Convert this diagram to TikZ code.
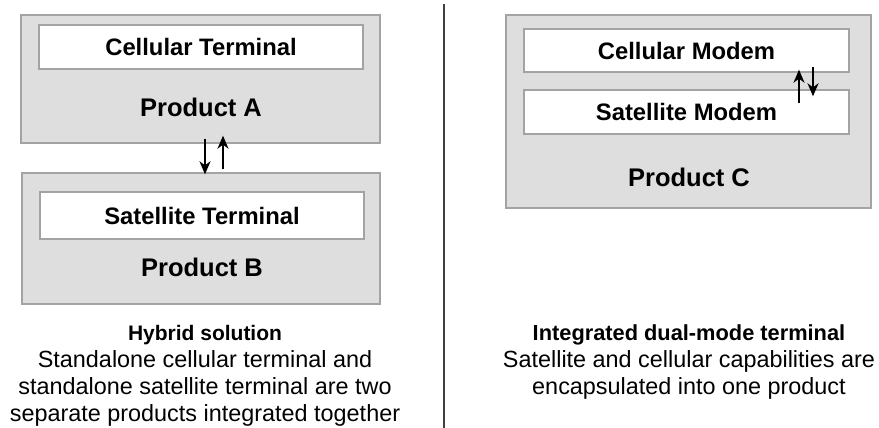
\documentclass[tikz,border=0pt]{standalone}
\usepackage{fontspec}
\setmainfont{Liberation Sans}
\usetikzlibrary{arrows.meta}
\definecolor{boxfill}{HTML}{DEDEDE}
\definecolor{boxline}{HTML}{A3A3A3}
\definecolor{divline}{HTML}{404040}
\tikzset{
  outerbox/.style={draw=boxline, fill=boxfill, line width=1.4pt, rectangle, inner sep=0pt},
  innerbox/.style={draw=boxline, fill=white, line width=1.4pt, rectangle, inner sep=0pt, font=\fontsize{23.8}{26}\selectfont\bfseries},
  prodlabel/.style={inner sep=0pt, font=\fontsize{25.5}{28}\selectfont\bfseries},
  flow/.style={line width=1.7pt, -{Stealth[length=13pt,width=11pt,inset=4pt]}},
  caption/.style={inner sep=0pt, align=center, anchor=north, font=\fontsize{23.4}{27}\selectfont},
}
\begin{document}
\begin{tikzpicture}[x=1pt,y=-1pt]
\useasboundingbox (0,0) rectangle (879,428);
% left: product A
\node[outerbox, minimum width=359pt, minimum height=128pt] (pa) at (200.5,79) {};
\node[innerbox, minimum width=324pt, minimum height=44pt] (ct) at (201,47) {Cellular Terminal};
\node[prodlabel] (pal) at (201,107) {Product A};
% left: product B
\node[outerbox, minimum width=358pt, minimum height=131pt] (pb) at (201,238.5) {};
\node[innerbox, minimum width=324pt, minimum height=47pt] (st) at (202,215.5) {Satellite Terminal};
\node[prodlabel] (pbl) at (202,267) {Product B};
% arrows between A and B
\draw[flow] ([xshift=4.5pt,yshift=5pt]pa.south) -- ([xshift=4pt,yshift=-2pt]pb.north);
\draw[flow] ([xshift=22pt,yshift=3pt]pb.north) -- ([xshift=22.5pt,yshift=8pt]pa.south);
% right: product C
\node[outerbox, minimum width=365pt, minimum height=193pt] (pc) at (688.5,111.5) {};
\node[innerbox, minimum width=325pt, minimum height=43pt] (cm) at (686.5,50.5) {Cellular Modem};
\node[innerbox, minimum width=325pt, minimum height=44pt] (sm) at (686.5,112) {Satellite Modem};
\node[prodlabel] (pcl) at (689,177) {Product C};
\draw[flow] ([xshift=112.5pt,yshift=-14pt]sm.north) -- ([xshift=112.5pt,yshift=3pt]cm.south);
\draw[flow] ([xshift=126.5pt,yshift=6pt]cm.south) -- ([xshift=126.5pt,yshift=-7pt]sm.north);
% divider
\coordinate (dtop) at (444,4);
\coordinate (dbot) at (444,428);
\draw[divline, line width=2pt] (dtop) -- (dbot);
% captions
\node[caption] (capl) at (205,325) {{\fontsize{21}{27}\selectfont\bfseries Hybrid solution}\\Standalone cellular terminal and\\standalone satellite terminal are two\\separate products integrated together};
\node[caption] (capr) at (689,325) {{\fontsize{21.8}{27}\selectfont\bfseries Integrated dual-mode terminal}\\Satellite and cellular capabilities are\\encapsulated into one product};
\end{tikzpicture}
\end{document}
